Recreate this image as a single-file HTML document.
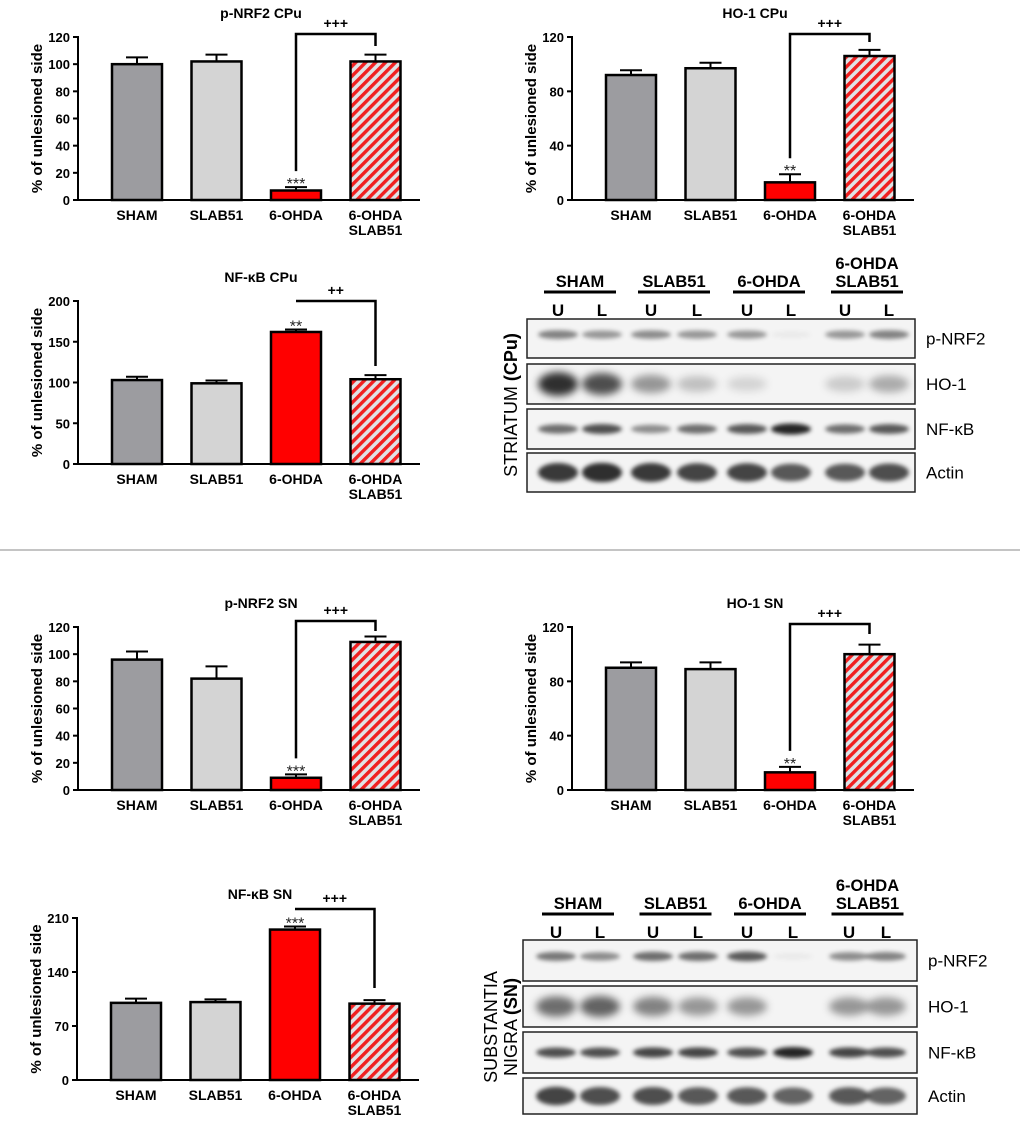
<!DOCTYPE html>
<html><head><meta charset="utf-8">
<style>
html,body{margin:0;padding:0;background:#fff;}
svg{display:block;font-family:"Liberation Sans",Arial,sans-serif;}
</style></head>
<body>
<svg id="fig" width="1020" height="1121" viewBox="0 0 1020 1121" xmlns="http://www.w3.org/2000/svg">
<defs>
<pattern id="hatch" patternUnits="userSpaceOnUse" width="7" height="7" patternTransform="rotate(45)">
<rect width="7" height="7" fill="#dfe3e6"/>
<rect width="3.4" height="7" fill="#f02020"/>
</pattern>
<filter id="blur" x="-30%" y="-100%" width="160%" height="300%"><feGaussianBlur stdDeviation="2.2"/></filter>
<filter id="blur2" x="-30%" y="-100%" width="160%" height="300%"><feGaussianBlur stdDeviation="4"/></filter>
</defs>
<line x1="0" y1="550" x2="1020" y2="550" stroke="#888" stroke-width="1"/>
</svg>
<script>
const NS='http://www.w3.org/2000/svg';
const svg=document.getElementById('fig');
const categories=['SHAM','SLAB51','6-OHDA','6-OHDA|SLAB51'];
const fills=['#9c9ca0','#d4d4d4','#ff0000','url(#hatch)'];
const nrf2CpuValues=[100,102,7,102];
const nrf2CpuErrors=[5,5,2.5,5];
const ho1CpuValues=[92,97,13,106];
const ho1CpuErrors=[3.5,4,6,4.5];
const nfkbCpuValues=[103,99,162,104];
const nfkbCpuErrors=[4,3.5,3,5];
const nrf2SnValues=[96,82,9,109];
const nrf2SnErrors=[6,9,2.5,4];
const ho1SnValues=[90,89,13,100];
const ho1SnErrors=[4,5,4,7];
const nfkbSnValues=[100,101,195,99];
const nfkbSnErrors=[5.5,3.5,4,4.5];
const ticks120by20=[0,20,40,60,80,100,120];
const ticks120by40=[0,40,80,120];
const ticks200by50=[0,50,100,150,200];
const ticks210by70=[0,70,140,210];

function el(tag,attrs,parent){const e=document.createElementNS(NS,tag);for(const k in attrs)e.setAttribute(k,attrs[k]);(parent||svg).appendChild(e);return e;}
function txt(s,attrs,parent){const t=el('text',attrs,parent);t.textContent=s;return t;}

function chart(cfg){
  const g=el('g',{});
  
  
  const ax=cfg.ax,y0=cfg.y0,yT=cfg.yT,max=cfg.ticks[cfg.ticks.length-1];
  const ys=v=>y0-(v/max)*(y0-yT);
  const xs=i=>ax+34+i*79.5;
  const bw=50;
  const t=txt(cfg.title,{x:ax+183,y:yT-19,'text-anchor':'middle','font-size':14,'font-weight':'bold'},g);
  
  
  cfg.values.forEach((v,i)=>{
    const x=xs(i),top=ys(v),eTop=ys(v+cfg.errors[i]);
    el('line',{x1:x+bw/2,y1:top,x2:x+bw/2,y2:eTop,stroke:'#000','stroke-width':2},g);
    el('line',{x1:x+bw/2-11,y1:eTop,x2:x+bw/2+11,y2:eTop,stroke:'#000','stroke-width':2},g);
    const r=el('rect',{x:x,y:top,width:bw,height:y0-top,fill:fills[i],stroke:'#000','stroke-width':2.5},g);
    
    
    const parts=categories[i].split('|');
    parts.forEach((p,k)=>{
      const l=txt(p,{x:x+bw/2,y:y0+20+k*15,'text-anchor':'middle','font-size':14,'font-weight':'bold'},g);
      
      
    });
  });
  el('line',{x1:ax,y1:yT-1,x2:ax,y2:y0+1,stroke:'#000','stroke-width':2},g);
  el('line',{x1:ax,y1:y0,x2:ax+342,y2:y0,stroke:'#000','stroke-width':2},g);
  cfg.ticks.forEach(tv=>{
    el('line',{x1:ax-5,y1:ys(tv),x2:ax,y2:ys(tv),stroke:'#000','stroke-width':2},g);
    const l=txt(String(tv),{x:ax-8,y:ys(tv)+5,'text-anchor':'end','font-size':13,'font-weight':'bold'},g);
    
    
  });
  const yt=txt('% of unlesioned side',{x:0,y:0,'text-anchor':'middle','font-size':15,'font-weight':'bold',transform:`translate(${ax-36},${(y0+yT)/2}) rotate(-90)`},g);
  
  
  const c2=xs(2)+bw/2,c3=xs(3)+bw/2;
  const e2=ys(cfg.values[2]+cfg.errors[2]);
  const st=txt(cfg.stars,{x:c2,y:e2+2,'text-anchor':'middle','font-size':16,fill:'#222'},g);
  
  
  const bt=cfg.bracketTop;
  const leftEnd=cfg.leftEnd!==undefined?cfg.leftEnd:e2-16;
  const rightEnd=cfg.rightEnd;
  const br=el('path',{d:`M${c2},${leftEnd} L${c2},${bt} L${c3},${bt} L${c3},${rightEnd}`,fill:'none',stroke:'#000','stroke-width':2.5},g);
  
  
  const pl=txt(cfg.plus,{x:(c2+c3)/2,y:bt-6,'text-anchor':'middle','font-size':14,'font-weight':'bold'},g);
  
  
}

chart({name:'chart-pnrf2-cpu',title:'p-NRF2 CPu',ax:78,y0:200,yT:37,ticks:ticks120by20,values:nrf2CpuValues,errors:nrf2CpuErrors,stars:'***',plus:'+++',bracketTop:34,rightEnd:46});
chart({name:'chart-ho1-cpu',title:'HO-1 CPu',ax:572,y0:200,yT:37,ticks:ticks120by40,values:ho1CpuValues,errors:ho1CpuErrors,stars:'**',plus:'+++',bracketTop:34,rightEnd:42});
chart({name:'chart-nfkb-cpu',title:'NF-κB CPu',ax:78,y0:464,yT:301,ticks:ticks200by50,values:nfkbCpuValues,errors:nfkbCpuErrors,stars:'**',plus:'++',bracketTop:301,leftEnd:301,rightEnd:366});
chart({name:'chart-pnrf2-sn',title:'p-NRF2 SN',ax:78,y0:790,yT:627,ticks:ticks120by20,values:nrf2SnValues,errors:nrf2SnErrors,stars:'***',plus:'+++',bracketTop:621,rightEnd:631});
chart({name:'chart-ho1-sn',title:'HO-1 SN',ax:572,y0:790,yT:627,ticks:ticks120by40,values:ho1SnValues,errors:ho1SnErrors,stars:'**',plus:'+++',bracketTop:624,rightEnd:634});
chart({name:'chart-nfkb-sn',title:'NF-κB SN',ax:77,y0:1080,yT:918,ticks:ticks210by70,values:nfkbSnValues,errors:nfkbSnErrors,stars:'***',plus:'+++',bracketTop:909,leftEnd:909,rightEnd:988});

const cpuPnrf2=[0.55,0.45,0.5,0.45,0.45,0.05,0.45,0.55];
const cpuHo1=[0.95,0.8,0.45,0.25,0.15,0.0,0.2,0.35];
const cpuNfkb=[0.65,0.8,0.5,0.65,0.75,1.0,0.65,0.75];
const cpuActin=[0.9,0.95,0.9,0.85,0.85,0.75,0.75,0.8];
const snPnrf2=[0.6,0.5,0.65,0.65,0.75,0.05,0.5,0.55];
const snHo1=[0.65,0.7,0.55,0.45,0.45,0.0,0.45,0.45];
const snNfkb=[0.8,0.8,0.85,0.85,0.8,1.0,0.85,0.8];
const snActin=[0.85,0.8,0.8,0.75,0.75,0.7,0.75,0.7];
const groups=['SHAM','SLAB51','6-OHDA','6-OHDA|SLAB51'];
const rowLabels=['p-NRF2','HO-1','NF-κB','Actin'];

function blot(cfg){
  const g=el('g',{});
  
  
  groups.forEach((gr,i)=>{
    const cx=(cfg.lanes[2*i]+cfg.lanes[2*i+1])/2;
    const parts=gr.split('|');
    parts.forEach((p,k)=>{
      const t=txt(p,{x:cx,y:cfg.lineY-5-(parts.length-1-k)*18,'text-anchor':'middle','font-size':16.5,'font-weight':'bold'},g);
      
      
    });
    el('line',{x1:cx-36,y1:cfg.lineY,x2:cx+36,y2:cfg.lineY,stroke:'#000','stroke-width':3},g);
    ['U','L'].forEach((s,k)=>{
      const t=txt(s,{x:cfg.lanes[2*i+k],y:cfg.lineY+24,'text-anchor':'middle','font-size':17,'font-weight':'bold'},g);
      
      
    });
  });
  cfg.rows.forEach((r,ri)=>{
    const [top,bot]=r;
    const box=el('rect',{x:cfg.x0,y:top,width:cfg.x1-cfg.x0,height:bot-top,fill:'#f4f4f4',stroke:'#222','stroke-width':1.5},g);
    
    
    const data=cfg.data[ri];
    const by=cfg.bandY[ri];
    const thick=ri===1?11:(ri===3?9:5);
    data.forEach((v,li)=>{
      if(v<=0.02)return;
      const b=el('ellipse',{cx:cfg.lanes[li],cy:top+(bot-top)*by,rx:20,ry:thick*(0.6+0.5*v),fill:'#000','fill-opacity':v*0.85,filter:ri===1?'url(#blur2)':'url(#blur)'},g);
      
      
    });
    const l=txt(rowLabels[ri],{x:cfg.x1+11,y:(top+bot)/2+6,'font-size':17},g);
    
    
  });
  cfg.side(g);
}

blot({name:'blot-striatum',x0:527,x1:915,lineY:292,lanes:[558,602,651,697,747,791,845,889],
  rows:[[319,358],[364,404],[409,449],[453,492]],bandY:[0.4,0.5,0.5,0.5],
  data:[cpuPnrf2,cpuHo1,cpuNfkb,cpuActin],
  side:g=>{const t=el('text',{x:0,y:0,'text-anchor':'middle','font-size':18,transform:'translate(517,405) rotate(-90)'},g);
    
    
    t.innerHTML='STRIATUM <tspan font-weight="bold">(CPu)</tspan>';}});

blot({name:'blot-substantia-nigra',x0:523,x1:917,lineY:914,lanes:[556,600,653,698,747,793,849,886],
  rows:[[940,981],[986,1027],[1032,1073],[1078,1114]],bandY:[0.4,0.5,0.5,0.5],
  data:[snPnrf2,snHo1,snNfkb,snActin],
  side:g=>{const t=el('text',{x:0,y:0,'text-anchor':'middle','font-size':18,transform:'translate(497,1027) rotate(-90)'},g);
    
    
    t.textContent='SUBSTANTIA';
    const t2=el('text',{x:0,y:0,'text-anchor':'middle','font-size':18,transform:'translate(517,1027) rotate(-90)'},g);
    
    
    t2.innerHTML='NIGRA <tspan font-weight="bold">(SN)</tspan>';}});
</script>
</body></html>
